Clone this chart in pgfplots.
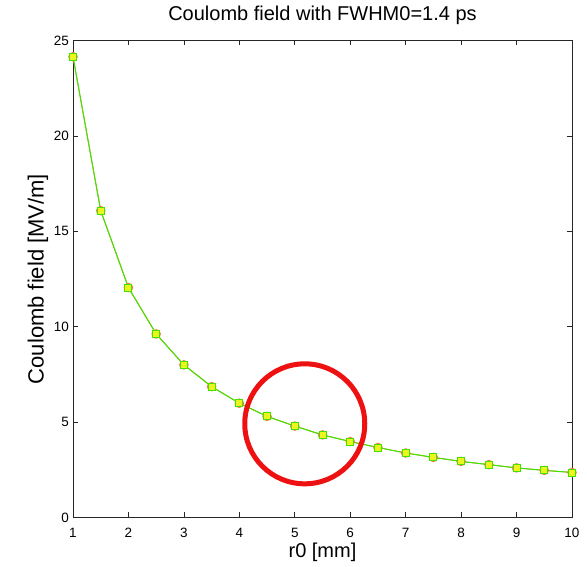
\documentclass[border=0pt]{standalone}
\usepackage{fontspec}
\setmainfont{Liberation Sans}
\usepackage{pgfplots}
\pgfplotsset{compat=1.18}
\definecolor{lgreen}{RGB}{70,225,0}
\definecolor{myellow}{RGB}{235,245,30}
\definecolor{morange}{RGB}{245,120,80}
\definecolor{cred}{RGB}{238,17,17}
\begin{document}
\begin{tikzpicture}
\useasboundingbox (-73bp,-49.5bp) rectangle (514bp,517.5bp);
\begin{axis}[at={(0,0)}, anchor=south west, scale only axis, width=499bp, height=477bp,
  xmin=1, xmax=10, ymin=0, ymax=25,
  xtick={1,2,...,10}, ytick={0,5,...,25},
  tick align=inside, major tick length=5bp,
  axis line style={line width=0.8bp, black!85},
  every tick/.style={black!85, line width=0.7bp},
  /pgf/number format/assume math mode=true,
  tick label style={font=\fontsize{13.5bp}{16bp}\selectfont},
  xticklabel style={anchor=base, yshift=-19.8bp},
  yticklabel style={anchor=east, inner sep=0pt, xshift=-4bp},
  title={Coulomb field with FWHM0=1.4 ps},
  title style={font=\fontsize{20bp}{24bp}\selectfont, at={(axis description cs:0.5,1)}, anchor=base, yshift=14.5bp},
  xlabel={r0 [mm]},
  xlabel style={font=\fontsize{20bp}{24bp}\selectfont, at={(axis description cs:0.5,0)}, anchor=base, yshift=-39.5bp},
  ylabel={Coulomb field [MV/m]},
  ylabel style={font=\fontsize{22bp}{26bp}\selectfont, at={(axis description cs:-0.0591,0.5)}, anchor=base},
  clip=false,
]
\addplot[cred, line width=5bp, only marks, mark=o, mark size=60bp, mark options={line width=5bp}] coordinates {(5.18,4.91)};
\addplot[morange, line width=0.8bp, mark=o, mark size=4.3bp, mark options={solid, line width=0.9bp}] table {
x y
1 24.15
1.5 16.08
2 12.05
2.5 9.62
3 8.00
3.5 6.86
4 5.99
4.5 5.30
5 4.79
5.5 4.33
6 3.98
6.5 3.67
7 3.38
7.5 3.15
8 2.94
8.5 2.77
9 2.60
9.5 2.47
10 2.36
};
\addplot[lgreen, line width=1.1bp, mark=square*, mark size=3.5bp, mark options={solid, fill=myellow, draw=lgreen, line width=0.9bp}] table {
x y
1 24.15
1.5 16.08
2 12.05
2.5 9.62
3 8.00
3.5 6.86
4 5.99
4.5 5.30
5 4.79
5.5 4.33
6 3.98
6.5 3.67
7 3.38
7.5 3.15
8 2.94
8.5 2.77
9 2.60
9.5 2.47
10 2.36
};
\end{axis}
\end{tikzpicture}
\end{document}
